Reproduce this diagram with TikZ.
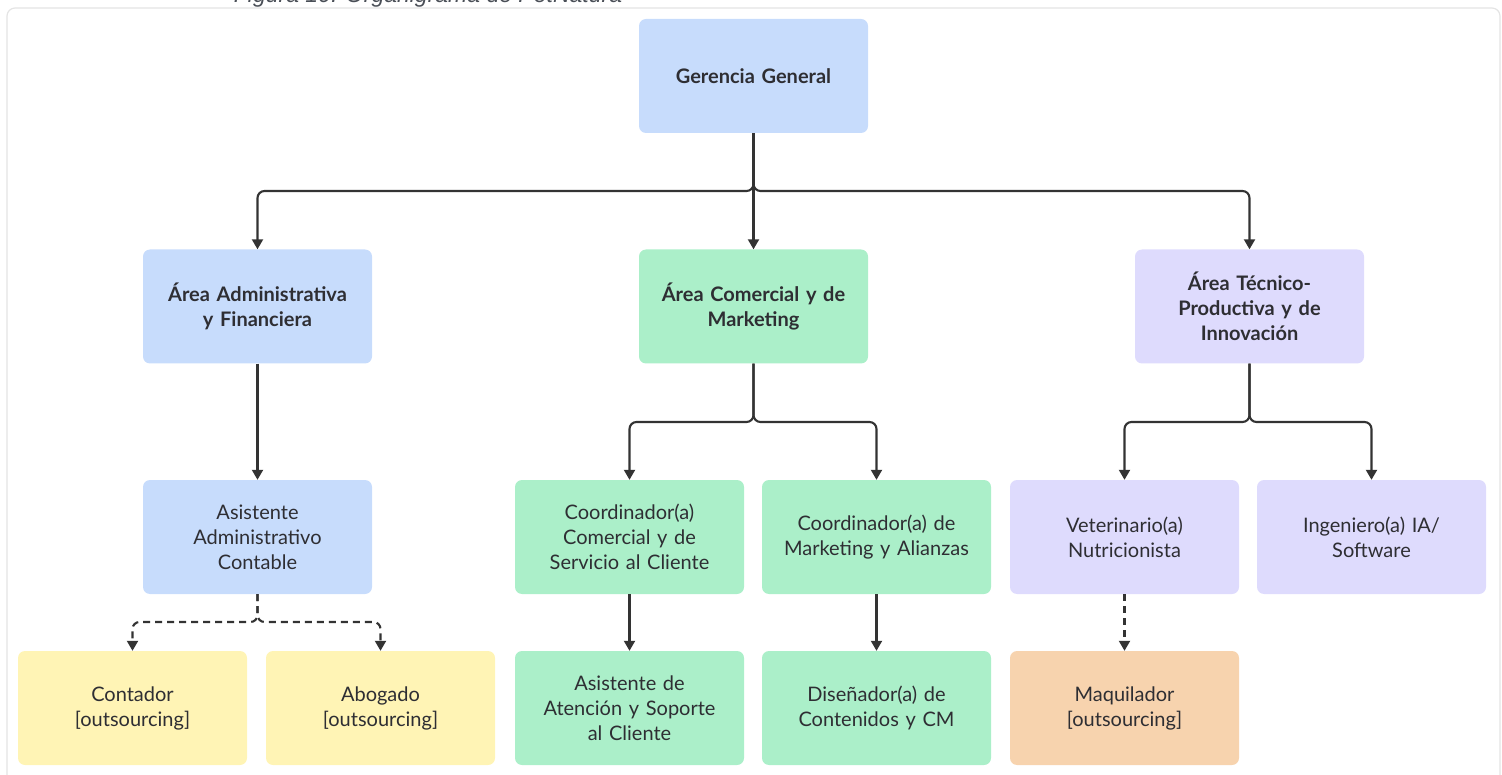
\documentclass[tikz,border=0pt]{standalone}
\usepackage{fontspec}
\setmainfont{Lato}
\newfontfamily\capfont{Liberation Sans}
\usetikzlibrary{arrows.meta,positioning}
\definecolor{cblue}{HTML}{C7DCFC}
\definecolor{cgreen}{HTML}{ABEFC9}
\definecolor{cpurple}{HTML}{DEDBFD}
\definecolor{cyellow}{HTML}{FFF4B5}
\definecolor{corange}{HTML}{F7D3AE}
\definecolor{ctext}{HTML}{2E2E33}
\definecolor{cline}{HTML}{333333}
\definecolor{cframe}{HTML}{E4E4E4}
\definecolor{ccap}{HTML}{4A4F57}
\tikzset{
  x=1pt, y=-1pt,
  box/.style={rounded corners=7pt, minimum width=229pt, minimum height=114pt,
    text width=219pt, align=center, text=ctext, inner sep=0pt,
    font=\fontsize{20}{25}\selectfont},
  bbox/.style={box, font=\fontsize{20}{25}\selectfont\bfseries},
  conn/.style={draw=cline, line width=2.1pt, rounded corners=7pt,
    -{Triangle[width=11pt,length=10pt]}},
  dconn/.style={conn, dash pattern=on 7pt off 5pt}
}
\begin{document}
\begin{tikzpicture}
\useasboundingbox (0,0) rectangle (1502,775);
\begin{scope}
\clip (0,0) rectangle (1502,775);
\node[anchor=base, text=ccap, inner sep=0pt, font=\capfont\itshape\fontsize{23}{26}\selectfont] (cap) at (428,3) {Figura 10. Organigrama de PetNatura};
\draw[cframe, line width=1.2pt, rounded corners=8pt] (7,8) rectangle (1500,800);
\end{scope}

\node[bbox, fill=cblue] (gg) at (753.5,76) {Gerencia General};
\node[bbox, fill=cblue] (adm) at (257.5,306.5) {Área Administrativa\\y Financiera};
\node[bbox, fill=cgreen] (com) at (753.5,306.5) {Área Comercial y de\\Marketing};
\node[bbox, fill=cpurple] (tec) at (1249.5,306.5) {Área Técnico-\\Productiva y de\\Innovación};

\node[box, fill=cblue] (asis) at (257.5,537) {Asistente\\Administrativo\\Contable};
\node[box, fill=cgreen] (coc) at (629.5,537) {Coordinador(a)\\Comercial y de\\Servicio al Cliente};
\node[box, fill=cgreen] (com2) at (876.5,537) {Coordinador(a) de\\Marketing y Alianzas};
\node[box, fill=cpurple] (vet) at (1124.5,537) {Veterinario(a)\\Nutricionista};
\node[box, fill=cpurple] (ing) at (1371.5,537) {Ingeniero(a) IA/\\Software};

\node[box, fill=cyellow] (cont) at (132.5,708) {Contador\\{[outsourcing]}};
\node[box, fill=cyellow] (abo) at (380.5,708) {Abogado\\{[outsourcing]}};
\node[box, fill=cgreen] (ate) at (629.5,708) {Asistente de\\Atención y Soporte\\al Cliente};
\node[box, fill=cgreen] (dis) at (876.5,708) {Diseñador(a) de\\Contenidos y CM};
\node[box, fill=corange] (maq) at (1124.5,708) {Maquilador\\{[outsourcing]}};

\coordinate (b1) at (753.5,191);
\coordinate (b2) at (753.5,422);
\coordinate (b3) at (1249.5,422);
\coordinate (b4) at (257.5,622);

\draw[conn] (gg.south) -- (b1) -| (adm.north);
\draw[conn] (gg.south) -- (com.north);
\draw[conn] (gg.south) -- (b1) -| (tec.north);
\draw[conn] (adm.south) -- (asis.north);
\draw[conn] (com.south) -- (b2) -| (coc.north);
\draw[conn] (com.south) -- (b2) -| (com2.north);
\draw[conn] (tec.south) -- (b3) -| (vet.north);
\draw[conn] (tec.south) -- (b3) -| (ing.north);
\draw[dconn] (asis.south) -- (b4) -| (cont.north);
\draw[dconn] (asis.south) -- (b4) -| (abo.north);
\draw[conn] (coc.south) -- (ate.north);
\draw[conn] (com2.south) -- (dis.north);
\draw[dconn] (vet.south) -- (maq.north);
\end{tikzpicture}
\end{document}
